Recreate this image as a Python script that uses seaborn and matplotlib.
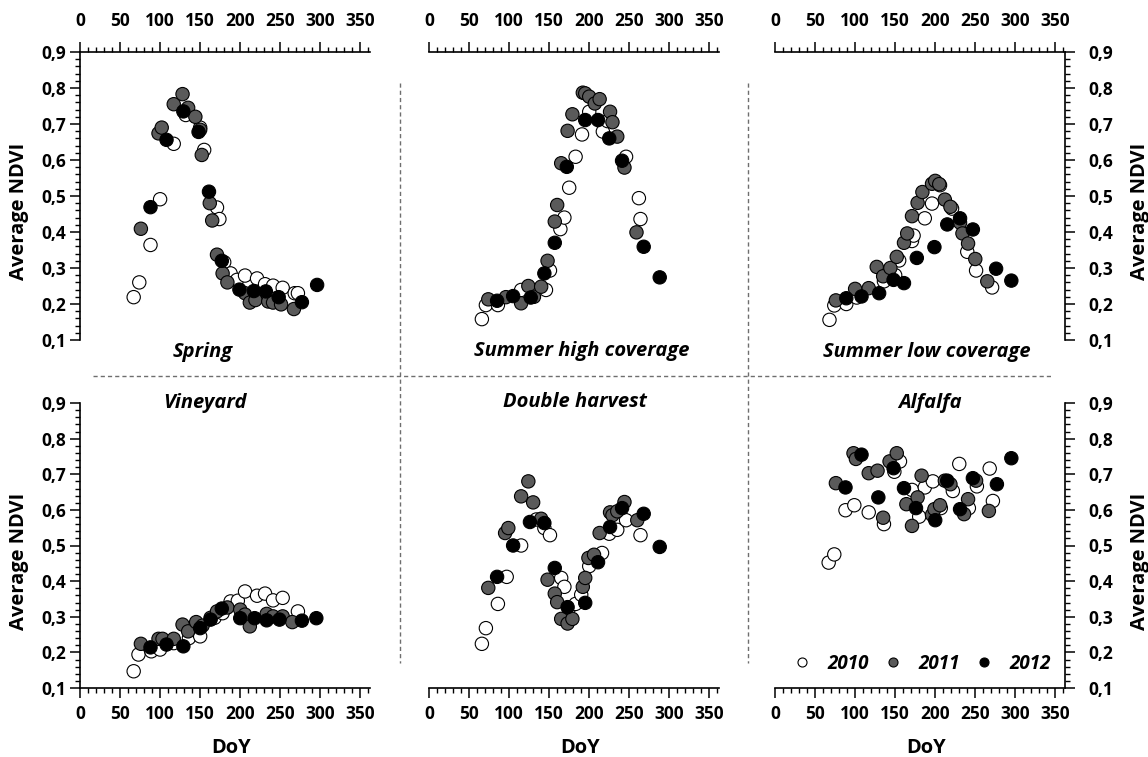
import matplotlib
matplotlib.use('Agg')
import matplotlib.pyplot as plt
import seaborn as sns
import pandas as pd
from matplotlib.lines import Line2D
from matplotlib.ticker import FixedLocator, FuncFormatter

sns.set_theme(style='ticks')
plt.rcParams['font.family'] = ['Open Sans', 'DejaVu Sans']
plt.rcParams['text.color'] = 'black'
plt.rcParams['axes.labelcolor'] = 'black'
plt.rcParams['xtick.color'] = 'black'
plt.rcParams['ytick.color'] = 'black'

years = [2010, 2011, 2012]
year_colors = {2010: 'white', 2011: '#5a5a5a', 2012: 'black'}

# (DoY, average NDVI)
spring_2010 = [(67, 0.219), (74, 0.26), (88, 0.364), (100, 0.491), (117, 0.645), (132, 0.725),
               (150, 0.69), (155, 0.628), (171, 0.468), (174, 0.436), (180, 0.316), (188, 0.285),
               (196, 0.267), (206, 0.279), (221, 0.271), (231, 0.255), (241, 0.251), (253, 0.245),
               (268, 0.23), (272, 0.23)]
spring_2011 = [(76, 0.409), (98, 0.674), (102, 0.69), (117, 0.755), (128, 0.783), (135, 0.745),
               (144, 0.72), (150, 0.684), (152, 0.614), (162, 0.48), (165, 0.432), (171, 0.337),
               (178, 0.285), (184, 0.26), (206, 0.23), (212, 0.204), (219, 0.211), (235, 0.207),
               (241, 0.204), (251, 0.199), (267, 0.186)]
spring_2012 = [(88, 0.469), (108, 0.656), (129, 0.735), (148, 0.678), (161, 0.512), (177, 0.32),
               (199, 0.24), (217, 0.236), (232, 0.235), (248, 0.219), (277, 0.205), (296, 0.253)]

summer_high_2010 = [(66, 0.158), (71, 0.197), (86, 0.197), (115, 0.239), (146, 0.239), (151, 0.293),
                    (164, 0.408), (169, 0.44), (175, 0.523), (183, 0.609), (191, 0.671), (200, 0.734),
                    (217, 0.679), (223, 0.708), (246, 0.609), (262, 0.494), (264, 0.436)]
summer_high_2011 = [(74, 0.213), (96, 0.219), (115, 0.202), (124, 0.25), (131, 0.22), (140, 0.248),
                    (148, 0.32), (157, 0.429), (160, 0.475), (165, 0.591), (173, 0.681), (179, 0.727),
                    (192, 0.787), (195, 0.785), (200, 0.776), (207, 0.757), (213, 0.769), (226, 0.734),
                    (229, 0.705), (235, 0.665), (244, 0.579), (259, 0.399)]
summer_high_2012 = [(85, 0.209), (105, 0.222), (127, 0.218), (144, 0.285), (157, 0.37), (172, 0.581),
                    (195, 0.711), (211, 0.711), (225, 0.66), (241, 0.598), (268, 0.359), (288, 0.274)]

summer_low_2010 = [(68, 0.156), (74, 0.196), (89, 0.2), (102, 0.218), (136, 0.263), (150, 0.28),
                   (155, 0.321), (171, 0.375), (173, 0.39), (187, 0.438), (196, 0.479), (206, 0.53),
                   (221, 0.465), (240, 0.345), (251, 0.293), (271, 0.246)]
summer_low_2011 = [(76, 0.21), (100, 0.242), (117, 0.244), (127, 0.303), (135, 0.277), (144, 0.3),
                   (152, 0.331), (161, 0.37), (165, 0.396), (171, 0.444), (178, 0.481), (184, 0.511),
                   (196, 0.534), (200, 0.542), (205, 0.533), (212, 0.49), (219, 0.47), (231, 0.426),
                   (234, 0.396), (241, 0.368), (250, 0.325), (265, 0.263)]
summer_low_2012 = [(89, 0.216), (108, 0.221), (130, 0.23), (148, 0.267), (161, 0.258), (177, 0.328),
                   (199, 0.358), (215, 0.421), (231, 0.438), (247, 0.407), (276, 0.298), (295, 0.265)]

vineyard_2010 = [(67, 0.147), (73, 0.194), (89, 0.203), (100, 0.208), (117, 0.226), (136, 0.24),
                 (150, 0.245), (168, 0.297), (178, 0.31), (188, 0.343), (197, 0.345), (206, 0.371),
                 (221, 0.359), (231, 0.365), (241, 0.346), (253, 0.353), (272, 0.315)]
vineyard_2011 = [(76, 0.224), (98, 0.238), (103, 0.238), (117, 0.238), (128, 0.278), (135, 0.259),
                 (145, 0.285), (153, 0.275), (163, 0.297), (171, 0.315), (184, 0.326), (200, 0.32),
                 (206, 0.306), (212, 0.273), (233, 0.308), (241, 0.301), (253, 0.301), (265, 0.285)]
vineyard_2012 = [(88, 0.214), (108, 0.222), (129, 0.217), (150, 0.268), (163, 0.292), (177, 0.323),
                 (200, 0.296), (218, 0.296), (233, 0.29), (249, 0.292), (277, 0.289), (295, 0.296)]

double_2010 = [(66, 0.224), (71, 0.268), (86, 0.336), (97, 0.412), (115, 0.5), (134, 0.573),
               (144, 0.549), (151, 0.529), (165, 0.409), (169, 0.384), (175, 0.325), (183, 0.336),
               (190, 0.362), (200, 0.442), (216, 0.479), (225, 0.533), (235, 0.544), (246, 0.571),
               (264, 0.529)]
double_2011 = [(74, 0.381), (95, 0.535), (99, 0.549), (115, 0.638), (124, 0.68), (130, 0.621),
               (140, 0.575), (148, 0.404), (157, 0.365), (160, 0.341), (165, 0.294), (173, 0.281),
               (179, 0.294), (192, 0.384), (195, 0.409), (199, 0.465), (206, 0.474), (213, 0.535),
               (226, 0.593), (229, 0.585), (235, 0.596), (244, 0.622), (260, 0.571)]
double_2012 = [(85, 0.412), (105, 0.5), (126, 0.566), (144, 0.563), (157, 0.437), (173, 0.327),
               (195, 0.339), (211, 0.453), (226, 0.552), (241, 0.605), (268, 0.589), (288, 0.496)]

alfalfa_2010 = [(67, 0.452), (74, 0.475), (88, 0.599), (99, 0.613), (117, 0.593), (136, 0.56),
                (149, 0.707), (156, 0.736), (171, 0.656), (180, 0.581), (187, 0.663), (197, 0.68),
                (207, 0.605), (222, 0.653), (230, 0.729), (242, 0.605), (252, 0.666), (268, 0.716),
                (272, 0.625)]
alfalfa_2011 = [(76, 0.675), (98, 0.759), (101, 0.743), (117, 0.703), (128, 0.71), (135, 0.578),
                (143, 0.736), (152, 0.759), (164, 0.616), (171, 0.555), (178, 0.635), (183, 0.696),
                (196, 0.586), (199, 0.602), (206, 0.613), (212, 0.682), (219, 0.672), (236, 0.588),
                (241, 0.63), (251, 0.682), (267, 0.597)]
alfalfa_2012 = [(88, 0.663), (108, 0.755), (129, 0.635), (148, 0.717), (161, 0.661), (176, 0.605),
                (200, 0.571), (215, 0.682), (231, 0.602), (247, 0.689), (277, 0.672), (295, 0.745)]

crops = ['Spring', 'Summer high coverage', 'Summer low coverage',
         'Vineyard', 'Double harvest', 'Alfalfa']
crop_data = [
    [spring_2010, spring_2011, spring_2012],
    [summer_high_2010, summer_high_2011, summer_high_2012],
    [summer_low_2010, summer_low_2011, summer_low_2012],
    [vineyard_2010, vineyard_2011, vineyard_2012],
    [double_2010, double_2011, double_2012],
    [alfalfa_2010, alfalfa_2011, alfalfa_2012],
]

W, H = 1148, 757
fig = plt.figure(figsize=(W / 100, H / 100), dpi=100)

def fx(px):
    return px / W

def fy(py):
    return 1 - py / H

col_left = [80, 429, 775]
col_width = 290
row_top = [52, 403]
row_bottom = [340, 688]
# title positions in pixels
title_pos = [(203, 352), (582, 351), (927, 352), (205, 403), (575, 402), (930, 403)]

TICK_SIZE = 12.5
label_font = dict(fontsize=14.5, fontweight='bold', color='black')
y_major = [k / 10 for k in range(1, 10)]
y_minor = [k / 50 for k in range(5, 46)]
x_major = list(range(0, 351, 50))
x_minor = list(range(0, 361, 10))

for i, crop in enumerate(crops):
    row, col = divmod(i, 3)
    x0 = col_left[col]
    y0, y1 = row_top[row], row_bottom[row]
    ax = fig.add_axes([fx(x0), fy(y1), col_width / W, (y1 - y0) / H])

    frames = []
    for yr, pts in zip(years, crop_data[i]):
        d = pd.DataFrame(pts, columns=['doy', 'ndvi'])
        d['year'] = yr
        frames.append(d)
    df = pd.concat(frames, ignore_index=True)

    sns.scatterplot(data=df, x='doy', y='ndvi', hue='year', palette=year_colors,
                    hue_order=years, edgecolor='black', linewidth=0.8, s=92,
                    legend=False, ax=ax, clip_on=False, zorder=3)

    ax.set_xlim(0, 362)
    ax.set_ylim(0.1, 0.9)
    ax.xaxis.set_major_locator(FixedLocator(x_major))
    ax.xaxis.set_minor_locator(FixedLocator(x_minor))
    ax.yaxis.set_major_locator(FixedLocator(y_major))
    ax.yaxis.set_minor_locator(FixedLocator(y_minor))
    ax.yaxis.set_major_formatter(FuncFormatter(lambda v, p: f'{v:.1f}'.replace('.', ',')))
    ax.set_facecolor('none')

    for s in ax.spines.values():
        s.set_visible(False)
        s.set_linewidth(1.2)
        s.set_color('black')

    ax.tick_params(which='major', direction='out', length=7, width=1.1, color='black',
                   labelcolor='black', labelsize=TICK_SIZE)
    ax.tick_params(which='minor', direction='out', length=3.5, width=1.0, color='black')

    # x axis: top row on top, bottom row at bottom
    if row == 0:
        ax.spines['top'].set_visible(True)
        ax.tick_params(axis='x', which='both', top=True, bottom=False,
                       labeltop=True, labelbottom=False)
        ax.tick_params(axis='x', which='major', pad=9)
        ax.set_xlabel('')
    else:
        ax.spines['bottom'].set_visible(True)
        ax.tick_params(axis='x', which='both', top=False, bottom=True,
                       labeltop=False, labelbottom=True)
        ax.tick_params(axis='x', which='major', pad=5)
        ax.set_xlabel('DoY', va='center', **label_font)
        ax.xaxis.set_label_coords(0.52, -0.212)

    # y axis: left column left, right column right, middle none
    if col == 0:
        ax.spines['left'].set_visible(True)
        ax.tick_params(axis='y', which='both', left=True, right=False,
                       labelleft=True, labelright=False)
        ax.tick_params(axis='y', which='major', pad=3)
        ax.set_ylabel('Average NDVI', va='center', ha='center', **label_font)
        ax.yaxis.set_label_coords(-0.212, 0.445)
    elif col == 2:
        ax.spines['right'].set_visible(True)
        ax.yaxis.set_label_position('right')
        ax.tick_params(axis='y', which='both', left=False, right=True,
                       labelleft=False, labelright=True)
        ax.tick_params(axis='y', which='major', pad=10)
        ax.set_ylabel('Average NDVI', rotation=90, va='center', ha='center', **label_font)
        ax.yaxis.set_label_coords(1.257, 0.445)
    else:
        ax.tick_params(axis='y', which='both', left=False, right=False,
                       labelleft=False, labelright=False)
        ax.set_ylabel('')

    for lab in ax.get_xticklabels() + ax.get_yticklabels():
        lab.set_fontweight('bold')

    tx, ty = title_pos[i]
    fig.text(fx(tx), fy(ty), crop, ha='center', va='center', fontsize=14.5,
             fontweight='bold', fontstyle='italic', color='black')

    if i == 5:
        handles = [Line2D([], [], linestyle='none', marker='o', markersize=6.5,
                          markerfacecolor=year_colors[yr], markeredgecolor='black',
                          markeredgewidth=0.8) for yr in years]
        leg = ax.legend(handles, [str(yr) for yr in years], ncol=3, frameon=False,
                        loc='center', bbox_to_anchor=(fx(922), fy(664)),
                        bbox_transform=fig.transFigure,
                        prop=dict(family=['Open Sans', 'DejaVu Sans'], size=13.5,
                                  weight='bold', style='italic'),
                        handlelength=1.0, handletextpad=0.85, columnspacing=0.8,
                        borderpad=0, borderaxespad=0)
        for t in leg.get_texts():
            t.set_color('black')

# dashed separators between panels
sep = dict(color='#6e6e6e', linewidth=1.0, linestyle=(0, (3, 2.2)))
fig.add_artist(Line2D([fx(93), fx(1052)], [fy(376), fy(376)], **sep))
fig.add_artist(Line2D([fx(400), fx(400)], [fy(83), fy(663)], **sep))
fig.add_artist(Line2D([fx(748), fx(748)], [fy(83), fy(663)], **sep))

fig.savefig('out.png', dpi=100)
